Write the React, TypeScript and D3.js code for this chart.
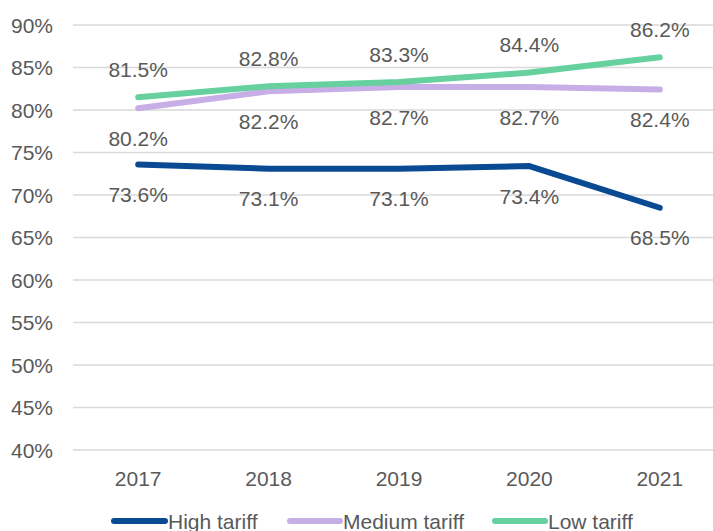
import React from "react";
import * as d3 from "d3";

const years = ["2017", "2018", "2019", "2020", "2021"];
const highTariff = [73.6, 73.1, 73.1, 73.4, 68.5];
const mediumTariff = [80.2, 82.2, 82.7, 82.7, 82.4];
const lowTariff = [81.5, 82.8, 83.3, 84.4, 86.2];
const yTicks = [40, 45, 50, 55, 60, 65, 70, 75, 80, 85, 90];

const W = 713;
const H = 531;
const FONT = "'Liberation Sans', Arial, sans-serif";
const TEXT = "#595959";

const series = [
  { name: "High tariff", values: highTariff, color: "#0A4A93", labelPos: "below" },
  { name: "Medium tariff", values: mediumTariff, color: "#C8AEE6", labelPos: "below" },
  { name: "Low tariff", values: lowTariff, color: "#66D19E", labelPos: "above" },
];

export default function App() {
  const x = d3.scaleBand<string>().domain(years).range([73, 725]);
  const cx = (yr: string) => (x(yr) as number) + x.bandwidth() / 2;
  const y = d3.scaleLinear().domain([40, 90]).range([450, 25]);
  const line = d3
    .line<number>()
    .x((_, i) => cx(years[i]))
    .y((d) => y(d));

  const legend = [
    { x1: 114, x2: 165, tx: 168 },
    { x1: 290, x2: 340, tx: 343 },
    { x1: 495, x2: 545, tx: 548 },
  ];

  return (
    <svg
      width={W}
      height={H}
      style={{ position: "absolute", left: 0, top: 0, background: "#fff" }}
      fontFamily={FONT}
    >
      {yTicks.map((t) => (
        <g key={t}>
          <line x1={73} x2={725} y1={y(t)} y2={y(t)} stroke="#d9d9d9" strokeWidth={1.5} />
          <text x={53} y={y(t)} dy="0.36em" textAnchor="end" fontSize={21} fill={TEXT}>
            {t}%
          </text>
        </g>
      ))}
      {years.map((yr) => (
        <text key={yr} x={cx(yr)} y={478} dy="0.36em" textAnchor="middle" fontSize={21} fill={TEXT}>
          {yr}
        </text>
      ))}
      {series.map((s) => (
        <path
          key={s.name}
          d={line(s.values) || ""}
          fill="none"
          stroke={s.color}
          strokeWidth={6}
          strokeLinecap="round"
          strokeLinejoin="round"
        />
      ))}
      {series.map((s) =>
        s.values.map((v, i) => (
          <text
            key={s.name + i}
            x={cx(years[i])}
            y={y(v) + (s.labelPos === "above" ? -28 : 30)}
            dy="0.36em"
            textAnchor="middle"
            fontSize={21}
            fill={TEXT}
          >
            {v.toFixed(1)}%
          </text>
        ))
      )}
      {series.map((s, i) => (
        <g key={s.name}>
          <line
            x1={legend[i].x1}
            x2={legend[i].x2}
            y1={521}
            y2={521}
            stroke={s.color}
            strokeWidth={6}
            strokeLinecap="round"
          />
          <text x={legend[i].tx} y={521} dy="0.36em" fontSize={21} fill={TEXT}>
            {s.name}
          </text>
        </g>
      ))}
    </svg>
  );
}
